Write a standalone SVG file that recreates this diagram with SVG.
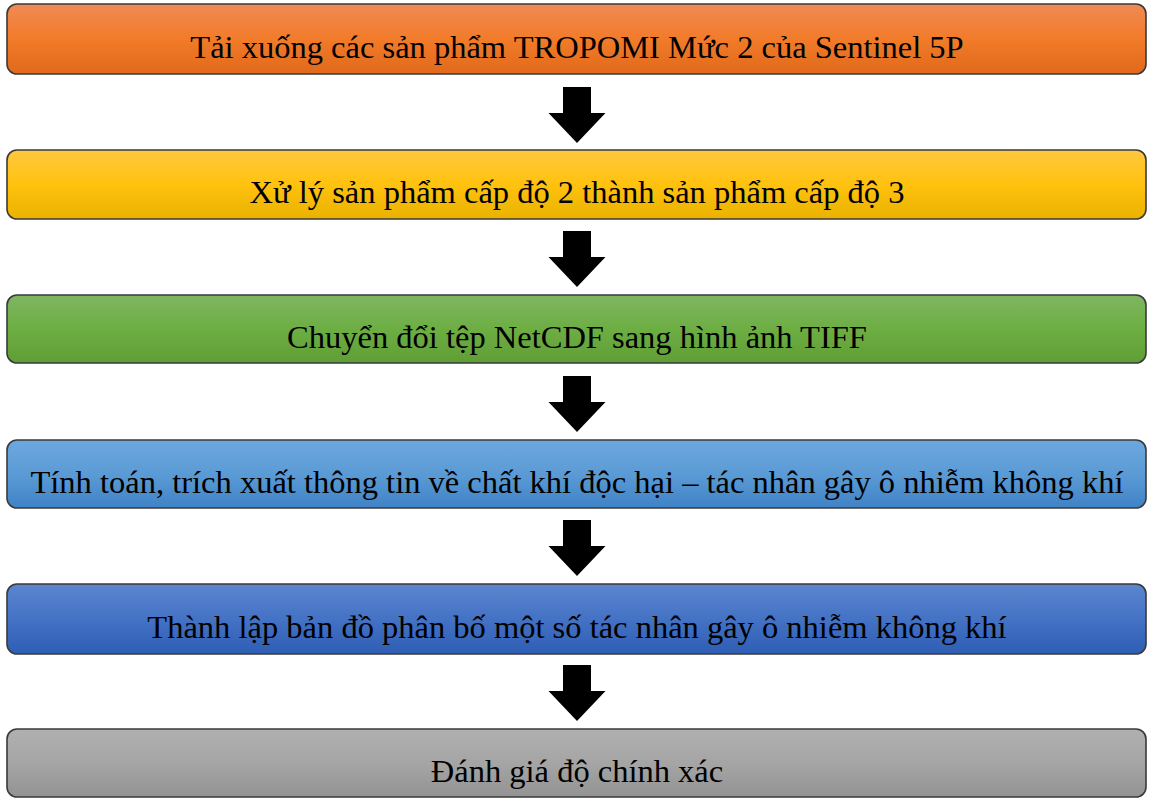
<svg xmlns="http://www.w3.org/2000/svg" width="1149" height="798" viewBox="0 0 1149 798">
<style>
.box{stroke:#3a3a3a;stroke-width:1.6}
.lbl{font-family:"Liberation Serif","Times New Roman",serif;font-size:32.5px;fill:#000;text-anchor:middle}
.arr{fill:#000}
</style>
<defs>
<linearGradient id="g1" x1="0" y1="0" x2="0" y2="1"><stop offset="0" stop-color="#F08A55"/><stop offset="0.5" stop-color="#F27B2A"/><stop offset="1" stop-color="#E0691B"/></linearGradient>
<linearGradient id="g2" x1="0" y1="0" x2="0" y2="1"><stop offset="0" stop-color="#FFC840"/><stop offset="0.5" stop-color="#FFC20E"/><stop offset="1" stop-color="#EAB200"/></linearGradient>
<linearGradient id="g3" x1="0" y1="0" x2="0" y2="1"><stop offset="0" stop-color="#7FB662"/><stop offset="0.5" stop-color="#6DAE43"/><stop offset="1" stop-color="#5F9E35"/></linearGradient>
<linearGradient id="g4" x1="0" y1="0" x2="0" y2="1"><stop offset="0" stop-color="#6EA7DF"/><stop offset="0.5" stop-color="#5B9BD5"/><stop offset="1" stop-color="#3F82C6"/></linearGradient>
<linearGradient id="g5" x1="0" y1="0" x2="0" y2="1"><stop offset="0" stop-color="#5C86D0"/><stop offset="0.5" stop-color="#4472C4"/><stop offset="1" stop-color="#2E5DB5"/></linearGradient>
<linearGradient id="g6" x1="0" y1="0" x2="0" y2="1"><stop offset="0" stop-color="#B0B0B0"/><stop offset="0.5" stop-color="#A5A5A5"/><stop offset="1" stop-color="#939393"/></linearGradient>
<path id="arrow" d="M-14,0 H14 V26 H28.5 L0,56 L-28.5,26 H-14 Z"/>
</defs>
<rect width="1149" height="798" fill="#fff"/>
<g id="connectors">
<use href="#arrow" class="arr" x="577" y="87"/>
<use href="#arrow" class="arr" x="577" y="231"/>
<use href="#arrow" class="arr" x="577" y="376"/>
<use href="#arrow" class="arr" x="577" y="520"/>
<use href="#arrow" class="arr" x="577" y="665"/>
</g>
<g id="n1"><rect class="box" x="7" y="4" width="1139" height="70" rx="10" fill="url(#g1)"/><text class="lbl" x="577" y="58">Tải xuống các sản phẩm TROPOMI Mức 2 của Sentinel 5P</text></g>
<g id="n2"><rect class="box" x="7" y="150" width="1139" height="69" rx="10" fill="url(#g2)"/><text class="lbl" x="577" y="203">Xử lý sản phẩm cấp độ 2 thành sản phẩm cấp độ 3</text></g>
<g id="n3"><rect class="box" x="7" y="295" width="1139" height="68" rx="10" fill="url(#g3)"/><text class="lbl" x="577" y="348">Chuyển đổi tệp NetCDF sang hình ảnh TIFF</text></g>
<g id="n4"><rect class="box" x="7" y="440" width="1139" height="68" rx="10" fill="url(#g4)"/><text class="lbl" x="577" y="493">Tính toán, trích xuất thông tin về chất khí độc hại – tác nhân gây ô nhiễm không khí</text></g>
<g id="n5"><rect class="box" x="7" y="584" width="1139" height="70" rx="10" fill="url(#g5)"/><text class="lbl" x="577" y="638">Thành lập bản đồ phân bố một số tác nhân gây ô nhiễm không khí</text></g>
<g id="n6"><rect class="box" x="7" y="729" width="1139" height="68" rx="10" fill="url(#g6)"/><text class="lbl" x="577" y="782">Đánh giá độ chính xác</text></g>
</svg>
